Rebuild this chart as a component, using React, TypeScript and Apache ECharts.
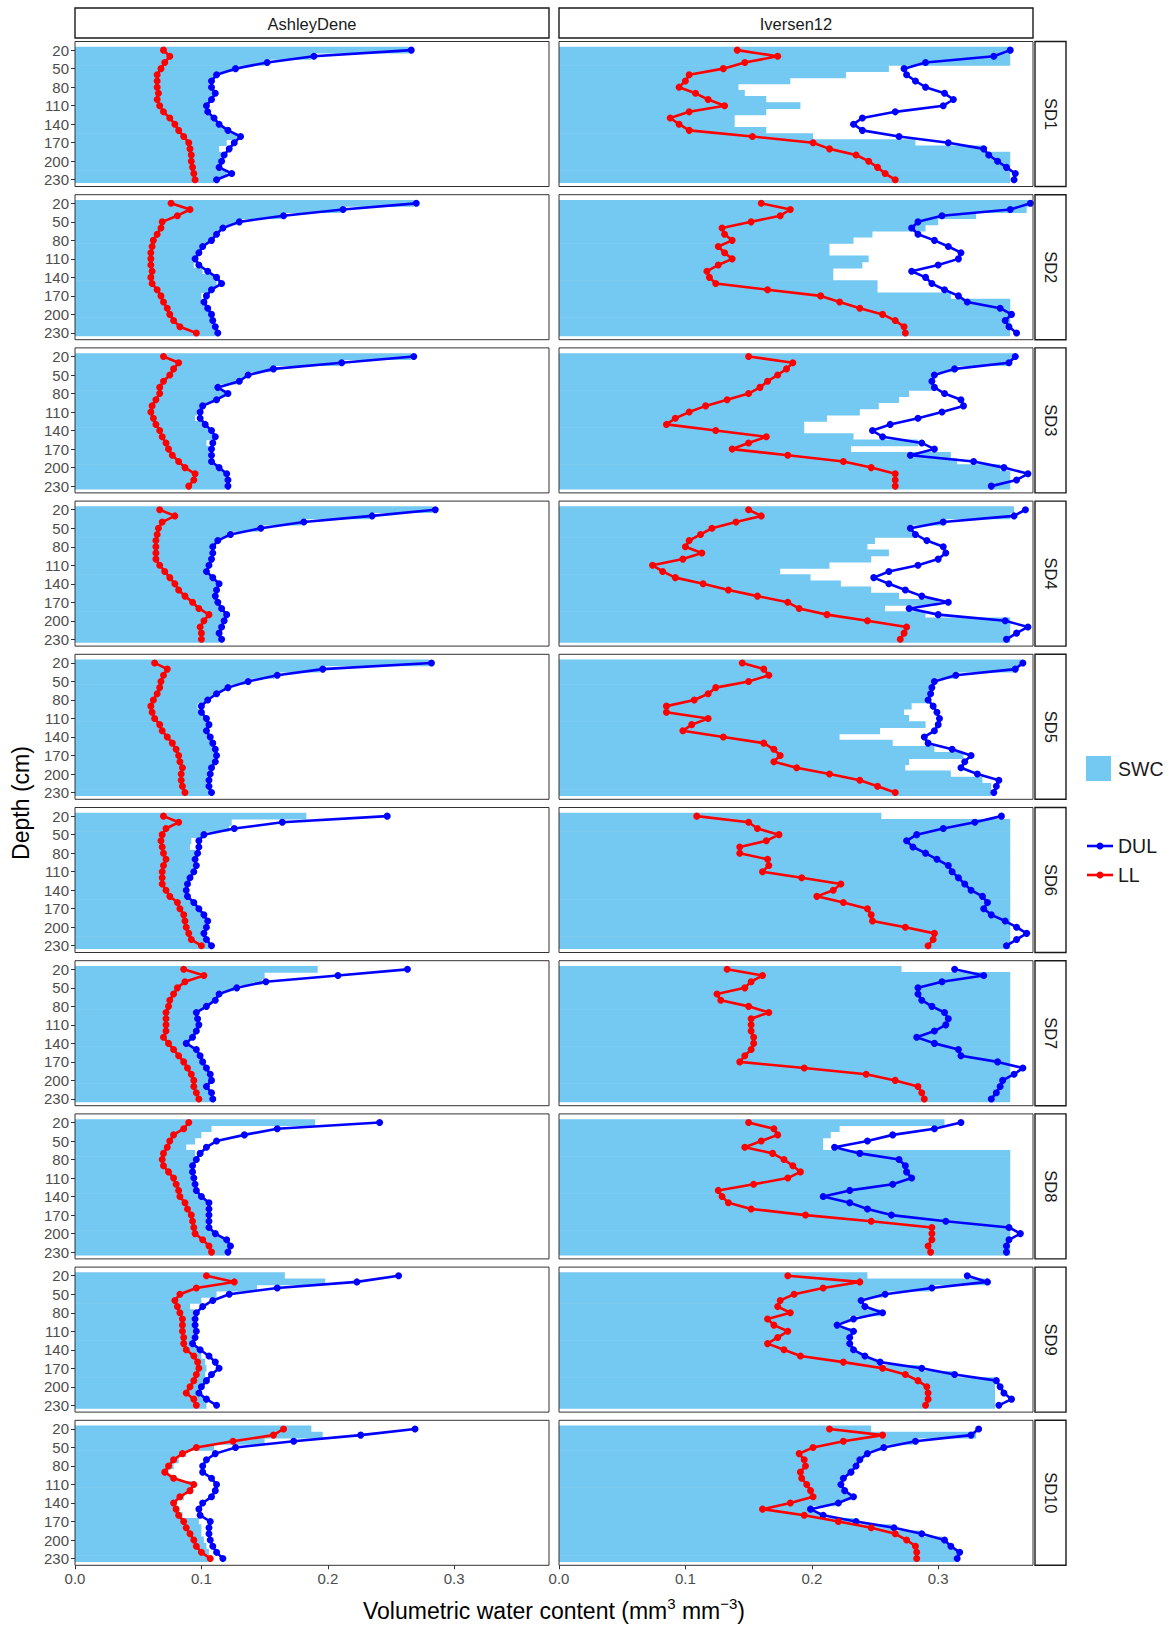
import React, { useEffect, useRef } from "react";
import * as echarts from "echarts";

// ---------- data ----------
const DEPTHS = [20, 30, 40, 50, 60, 70, 80, 90, 100, 110, 120, 130, 140, 150, 160, 170, 180, 190, 200, 210, 220, 230];
const SITES = ["AshleyDene", "Iversen12"];
const SOWING_DATES = ["SD1", "SD2", "SD3", "SD4", "SD5", "SD6", "SD7", "SD8", "SD9", "SD10"];
const Y_TICKS = [20, 50, 80, 110, 140, 170, 200, 230];
const X_TICKS = [0, 0.1, 0.2, 0.3];

// AshleyDene
const adDul1 = [0.266,0.189,0.152,0.127,0.112,0.108,0.108,0.111,0.108,0.104,0.105,0.110,0.114,0.121,0.131,0.126,0.122,0.118,0.116,0.114,0.124,0.112];
const adLl1 = [0.070,0.075,0.071,0.068,0.065,0.065,0.065,0.066,0.065,0.067,0.070,0.075,0.079,0.082,0.086,0.090,0.091,0.092,0.092,0.093,0.094,0.095];
const adSwc1 = [0.264,0.187,0.150,0.125,0.110,0.106,0.106,0.109,0.106,0.102,0.103,0.108,0.112,0.119,0.128,0.120,0.114,0.116,0.114,0.112,0.120,0.110];

const adDul2 = [0.270,0.212,0.165,0.130,0.117,0.112,0.108,0.101,0.098,0.095,0.098,0.105,0.112,0.116,0.108,0.104,0.102,0.105,0.108,0.109,0.111,0.113];
const adLl2 = [0.076,0.091,0.081,0.069,0.068,0.065,0.062,0.061,0.060,0.060,0.060,0.061,0.060,0.061,0.065,0.068,0.070,0.073,0.075,0.078,0.083,0.096];
const adSwc2 = [0.268,0.210,0.163,0.128,0.115,0.110,0.106,0.099,0.096,0.093,0.094,0.101,0.110,0.112,0.106,0.100,0.100,0.103,0.106,0.107,0.109,0.111];

const adDul3 = [0.268,0.211,0.157,0.137,0.130,0.113,0.121,0.112,0.101,0.099,0.099,0.103,0.108,0.111,0.109,0.108,0.108,0.108,0.114,0.120,0.121,0.121];
const adLl3 = [0.070,0.082,0.078,0.075,0.070,0.067,0.067,0.064,0.061,0.060,0.062,0.064,0.067,0.069,0.072,0.074,0.077,0.082,0.087,0.095,0.094,0.090];
const adSwc3 = [0.266,0.209,0.155,0.135,0.128,0.111,0.119,0.110,0.099,0.097,0.095,0.101,0.106,0.109,0.104,0.106,0.106,0.106,0.112,0.118,0.119,0.119];

const adDul4 = [0.285,0.235,0.181,0.147,0.123,0.113,0.109,0.109,0.108,0.106,0.104,0.109,0.114,0.112,0.111,0.113,0.116,0.120,0.118,0.116,0.114,0.116];
const adLl4 = [0.067,0.079,0.069,0.066,0.065,0.064,0.064,0.064,0.064,0.067,0.071,0.075,0.079,0.082,0.087,0.093,0.098,0.106,0.102,0.099,0.100,0.100];
const adSwc4 = [0.283,0.233,0.179,0.145,0.121,0.111,0.107,0.107,0.106,0.104,0.102,0.107,0.112,0.110,0.109,0.111,0.114,0.118,0.116,0.114,0.112,0.114];

const adDul5 = [0.282,0.196,0.160,0.137,0.121,0.112,0.105,0.100,0.100,0.104,0.106,0.104,0.107,0.109,0.111,0.112,0.111,0.108,0.107,0.106,0.106,0.108];
const adLl5 = [0.063,0.073,0.070,0.068,0.067,0.065,0.062,0.060,0.061,0.063,0.067,0.069,0.073,0.077,0.080,0.082,0.083,0.085,0.084,0.084,0.085,0.087];
const adSwc5 = [0.280,0.194,0.158,0.135,0.119,0.110,0.103,0.097,0.098,0.102,0.104,0.102,0.105,0.107,0.109,0.110,0.109,0.106,0.105,0.104,0.104,0.106];

const adDul6 = [0.247,0.164,0.126,0.102,0.098,0.098,0.097,0.095,0.096,0.094,0.091,0.089,0.088,0.089,0.094,0.098,0.102,0.105,0.104,0.102,0.104,0.108];
const adLl6 = [0.070,0.082,0.072,0.069,0.068,0.069,0.070,0.072,0.070,0.069,0.069,0.069,0.072,0.075,0.081,0.083,0.086,0.087,0.088,0.090,0.092,0.100];
const adSwc6 = [0.183,0.124,0.122,0.100,0.092,0.091,0.095,0.093,0.094,0.092,0.089,0.087,0.086,0.087,0.092,0.096,0.100,0.103,0.102,0.100,0.102,0.106];

const adDul7 = [0.263,0.208,0.151,0.128,0.114,0.111,0.104,0.096,0.097,0.098,0.096,0.093,0.088,0.096,0.099,0.101,0.104,0.107,0.108,0.104,0.108,0.109];
const adLl7 = [0.086,0.102,0.087,0.081,0.078,0.075,0.074,0.072,0.072,0.072,0.072,0.070,0.074,0.078,0.082,0.086,0.089,0.092,0.094,0.094,0.096,0.098];
const adSwc7 = [0.192,0.150,0.148,0.126,0.112,0.109,0.102,0.094,0.095,0.096,0.094,0.091,0.086,0.094,0.097,0.099,0.102,0.105,0.106,0.102,0.106,0.107];

const adDul8 = [0.241,0.160,0.134,0.112,0.104,0.099,0.096,0.093,0.093,0.094,0.095,0.096,0.100,0.106,0.106,0.106,0.106,0.106,0.111,0.120,0.123,0.121];
const adLl8 = [0.090,0.086,0.078,0.075,0.073,0.070,0.069,0.070,0.074,0.078,0.080,0.082,0.083,0.087,0.089,0.092,0.093,0.094,0.095,0.101,0.106,0.108];
const adSwc8 = [0.190,0.108,0.100,0.095,0.088,0.095,0.094,0.091,0.091,0.092,0.093,0.094,0.098,0.104,0.104,0.104,0.104,0.104,0.109,0.118,0.121,0.119];

const adDul9 = [0.256,0.223,0.160,0.122,0.109,0.101,0.096,0.095,0.095,0.096,0.095,0.093,0.099,0.106,0.111,0.114,0.108,0.104,0.100,0.098,0.104,0.112];
const adLl9 = [0.104,0.126,0.096,0.083,0.079,0.081,0.083,0.085,0.085,0.085,0.086,0.086,0.088,0.094,0.097,0.098,0.096,0.094,0.091,0.088,0.094,0.096];
const adSwc9 = [0.166,0.198,0.144,0.112,0.100,0.091,0.094,0.093,0.093,0.094,0.093,0.091,0.097,0.100,0.103,0.104,0.103,0.102,0.098,0.096,0.102,0.104];

const adDul10 = [0.269,0.226,0.173,0.127,0.111,0.104,0.101,0.101,0.108,0.112,0.111,0.108,0.101,0.098,0.099,0.107,0.106,0.106,0.107,0.109,0.112,0.117];
const adLl10 = [0.165,0.157,0.125,0.096,0.085,0.078,0.074,0.071,0.078,0.094,0.091,0.083,0.078,0.080,0.082,0.086,0.088,0.091,0.094,0.096,0.100,0.107];
const adSwc10 = [0.187,0.196,0.150,0.110,0.088,0.082,0.078,0.074,0.080,0.095,0.093,0.086,0.080,0.082,0.085,0.098,0.100,0.100,0.102,0.104,0.106,0.108];

// Iversen12
const ivDul1 = [0.357,0.344,0.290,0.273,0.275,0.282,0.290,0.305,0.312,0.304,0.266,0.240,0.233,0.240,0.269,0.308,0.336,0.340,0.347,0.354,0.361,0.360];
const ivLl1 = [0.141,0.173,0.147,0.130,0.103,0.100,0.095,0.108,0.118,0.131,0.103,0.088,0.095,0.103,0.153,0.201,0.214,0.235,0.245,0.252,0.258,0.266];
const ivSwc1 = [0.357,0.357,0.357,0.261,0.227,0.183,0.142,0.147,0.164,0.191,0.164,0.139,0.139,0.164,0.201,0.282,0.335,0.357,0.357,0.357,0.357,0.357];

const ivDul2 = [0.373,0.357,0.303,0.284,0.279,0.284,0.297,0.308,0.318,0.316,0.300,0.279,0.290,0.295,0.305,0.316,0.323,0.349,0.358,0.353,0.356,0.362];
const ivLl2 = [0.160,0.183,0.175,0.152,0.129,0.131,0.137,0.126,0.131,0.137,0.126,0.117,0.119,0.124,0.165,0.207,0.222,0.238,0.256,0.266,0.273,0.274];
const ivSwc2 = [0.373,0.370,0.330,0.300,0.290,0.248,0.233,0.214,0.214,0.245,0.240,0.217,0.217,0.252,0.252,0.310,0.357,0.357,0.357,0.357,0.357,0.357];

const ivDul3 = [0.361,0.356,0.313,0.297,0.295,0.297,0.305,0.318,0.320,0.303,0.284,0.262,0.248,0.256,0.287,0.297,0.278,0.328,0.352,0.371,0.362,0.342];
const ivLl3 = [0.150,0.185,0.180,0.173,0.165,0.159,0.150,0.133,0.116,0.103,0.092,0.085,0.124,0.164,0.150,0.137,0.181,0.225,0.247,0.266,0.266,0.266];
const ivSwc3 = [0.361,0.356,0.313,0.297,0.295,0.297,0.277,0.269,0.253,0.238,0.212,0.194,0.194,0.233,0.284,0.231,0.310,0.315,0.349,0.357,0.357,0.357];

const ivDul4 = [0.369,0.360,0.304,0.278,0.282,0.291,0.304,0.306,0.300,0.284,0.261,0.249,0.261,0.274,0.287,0.308,0.277,0.300,0.353,0.371,0.362,0.354];
const ivLl4 = [0.150,0.160,0.140,0.121,0.112,0.103,0.100,0.113,0.098,0.074,0.082,0.092,0.114,0.134,0.157,0.181,0.190,0.212,0.244,0.275,0.273,0.270];
const ivSwc4 = [0.360,0.357,0.304,0.278,0.282,0.250,0.244,0.261,0.247,0.214,0.175,0.199,0.223,0.247,0.269,0.300,0.258,0.290,0.357,0.357,0.357,0.357];

const ivDul5 = [0.367,0.361,0.314,0.297,0.295,0.294,0.292,0.296,0.299,0.301,0.300,0.297,0.289,0.292,0.311,0.326,0.321,0.318,0.331,0.348,0.346,0.344];
const ivLl5 = [0.145,0.162,0.166,0.150,0.124,0.118,0.107,0.085,0.085,0.118,0.105,0.098,0.130,0.162,0.170,0.175,0.170,0.188,0.214,0.238,0.252,0.266];
const ivSwc5 = [0.367,0.360,0.314,0.297,0.295,0.294,0.292,0.279,0.273,0.277,0.290,0.254,0.222,0.264,0.297,0.320,0.277,0.274,0.310,0.335,0.342,0.342];

const ivDul6 = [0.350,0.329,0.304,0.283,0.275,0.280,0.290,0.299,0.308,0.311,0.316,0.321,0.326,0.335,0.339,0.336,0.342,0.353,0.362,0.370,0.362,0.354];
const ivLl6 = [0.109,0.150,0.157,0.174,0.164,0.143,0.143,0.165,0.166,0.161,0.192,0.223,0.217,0.204,0.225,0.244,0.247,0.248,0.274,0.297,0.296,0.292];
const ivSwc6 = [0.255,0.357,0.357,0.357,0.357,0.357,0.357,0.357,0.357,0.357,0.357,0.357,0.357,0.357,0.357,0.357,0.357,0.357,0.357,0.357,0.357,0.357];

const ivDul7 = [0.313,0.336,0.303,0.284,0.284,0.287,0.295,0.305,0.308,0.306,0.297,0.283,0.297,0.316,0.318,0.347,0.367,0.360,0.351,0.349,0.346,0.342];
const ivLl7 = [0.133,0.161,0.152,0.147,0.125,0.128,0.150,0.166,0.152,0.152,0.152,0.154,0.154,0.152,0.147,0.143,0.194,0.243,0.266,0.284,0.287,0.289];
const ivSwc7 = [0.271,0.357,0.357,0.357,0.357,0.357,0.357,0.357,0.357,0.357,0.357,0.357,0.357,0.357,0.357,0.357,0.357,0.357,0.357,0.357,0.357,0.357];

const ivDul8 = [0.318,0.297,0.264,0.244,0.218,0.238,0.269,0.274,0.275,0.279,0.264,0.230,0.209,0.230,0.244,0.263,0.306,0.356,0.365,0.356,0.354,0.354];
const ivLl8 = [0.150,0.170,0.173,0.160,0.147,0.169,0.178,0.185,0.191,0.181,0.154,0.126,0.129,0.134,0.152,0.195,0.247,0.295,0.295,0.295,0.292,0.294];
const ivSwc8 = [0.305,0.222,0.215,0.209,0.209,0.357,0.357,0.357,0.357,0.357,0.357,0.357,0.357,0.357,0.357,0.357,0.357,0.357,0.357,0.357,0.357,0.357];

const ivDul9 = [0.323,0.339,0.295,0.258,0.239,0.242,0.256,0.233,0.220,0.233,0.230,0.230,0.233,0.242,0.254,0.287,0.313,0.346,0.349,0.352,0.358,0.348];
const ivLl9 = [0.181,0.238,0.209,0.186,0.175,0.173,0.183,0.165,0.170,0.181,0.173,0.165,0.178,0.191,0.225,0.256,0.274,0.284,0.291,0.292,0.292,0.290];
const ivSwc9 = [0.244,0.339,0.293,0.256,0.237,0.240,0.254,0.230,0.218,0.231,0.228,0.228,0.231,0.240,0.252,0.285,0.312,0.345,0.345,0.345,0.345,0.345];

const ivDul10 = [0.332,0.326,0.282,0.257,0.244,0.238,0.235,0.231,0.225,0.223,0.226,0.233,0.221,0.199,0.209,0.235,0.265,0.287,0.305,0.310,0.317,0.315];
const ivLl10 = [0.214,0.256,0.225,0.201,0.190,0.194,0.195,0.191,0.192,0.196,0.199,0.201,0.183,0.161,0.194,0.221,0.247,0.266,0.275,0.282,0.283,0.283];
const ivSwc10 = [0.247,0.330,0.280,0.256,0.242,0.236,0.233,0.229,0.223,0.221,0.224,0.231,0.219,0.197,0.207,0.233,0.263,0.285,0.303,0.308,0.315,0.313];

const AD_DUL = [adDul1, adDul2, adDul3, adDul4, adDul5, adDul6, adDul7, adDul8, adDul9, adDul10];
const AD_LL = [adLl1, adLl2, adLl3, adLl4, adLl5, adLl6, adLl7, adLl8, adLl9, adLl10];
const AD_SWC = [adSwc1, adSwc2, adSwc3, adSwc4, adSwc5, adSwc6, adSwc7, adSwc8, adSwc9, adSwc10];
const IV_DUL = [ivDul1, ivDul2, ivDul3, ivDul4, ivDul5, ivDul6, ivDul7, ivDul8, ivDul9, ivDul10];
const IV_LL = [ivLl1, ivLl2, ivLl3, ivLl4, ivLl5, ivLl6, ivLl7, ivLl8, ivLl9, ivLl10];
const IV_SWC = [ivSwc1, ivSwc2, ivSwc3, ivSwc4, ivSwc5, ivSwc6, ivSwc7, ivSwc8, ivSwc9, ivSwc10];

// ---------- layout / style ----------
const W = 1175;
const H = 1627;
const COL_LEFT = [75, 559];
const PANEL_W = 474;
const ROW_TOP = 41.5;
const ROW_PITCH = 153.2;
const PANEL_H = 145;
const STRIP_X = 1035;
const STRIP_W = 31;
const FONT = "'Liberation Sans', Arial, Helvetica, sans-serif";
const SWC_COLOR = "#73C9F1";
const DUL_COLOR = "#0000FF";
const LL_COLOR = "#FF0000";
const TICK_COLOR = "#4d4d4d";
const LINE_W = 2.6;
const SYMBOL_SIZE = 7;

function buildOption() {
  const grids: any[] = [];
  const xAxes: any[] = [];
  const yAxes: any[] = [];
  const series: any[] = [];
  const graphics: any[] = [];

  for (let r = 0; r < SOWING_DATES.length; r++) {
    for (let c = 0; c < SITES.length; c++) {
      const idx = r * 2 + c;
      const top = ROW_TOP + r * ROW_PITCH;
      const left = COL_LEFT[c];
      grids.push({ left, top, width: PANEL_W, height: PANEL_H, show: true, backgroundColor: "#fff", borderWidth: 0 });
      const bottomRow = r === SOWING_DATES.length - 1;
      xAxes.push({
        gridIndex: idx,
        type: "value",
        min: 0,
        max: 0.375,
        axisLine: { show: false },
        splitLine: { show: false },
        axisTick: { show: bottomRow, length: 4, customValues: X_TICKS, lineStyle: { color: "#333", width: 1 } },
        axisLabel: {
          show: bottomRow,
          customValues: X_TICKS,
          formatter: (v: number) => v.toFixed(1),
          fontSize: 15,
          color: TICK_COLOR,
          fontFamily: FONT,
          margin: 6,
        },
      });
      yAxes.push({
        gridIndex: idx,
        type: "value",
        inverse: true,
        min: 6,
        max: 241,
        axisLine: { show: false },
        splitLine: { show: false },
        axisTick: { show: c === 0, length: 4, customValues: Y_TICKS, lineStyle: { color: "#333", width: 1 } },
        axisLabel: {
          show: c === 0,
          customValues: Y_TICKS,
          fontSize: 15,
          color: TICK_COLOR,
          fontFamily: FONT,
          margin: 6,
        },
      });

      const dul = c === 0 ? AD_DUL[r] : IV_DUL[r];
      const ll = c === 0 ? AD_LL[r] : IV_LL[r];
      const swc = c === 0 ? AD_SWC[r] : IV_SWC[r];

      series.push({
        type: "custom",
        name: "SWC",
        xAxisIndex: idx,
        yAxisIndex: idx,
        coordinateSystem: "cartesian2d",
        z: 1,
        encode: { x: 0, y: 1 },
        data: DEPTHS.map((d, k) => [swc[k], d]),
        renderItem: (_params: any, api: any) => {
          const v = api.value(0);
          const d = api.value(1);
          const p0 = api.coord([0, d - 5]);
          const p1 = api.coord([v, d + 5]);
          const y0 = Math.min(p0[1], p1[1]);
          const hgt = Math.abs(p1[1] - p0[1]);
          return {
            type: "rect",
            shape: { x: p0[0], y: y0 - 0.3, width: p1[0] - p0[0], height: hgt + 0.6 },
            style: { fill: SWC_COLOR },
          };
        },
      });
      series.push({
        type: "line",
        name: "DUL",
        xAxisIndex: idx,
        yAxisIndex: idx,
        z: 3,
        data: DEPTHS.map((d, k) => [dul[k], d]),
        symbol: "circle",
        symbolSize: SYMBOL_SIZE,
        showSymbol: true,
        lineStyle: { color: DUL_COLOR, width: LINE_W },
        itemStyle: { color: DUL_COLOR },
      });
      series.push({
        type: "line",
        name: "LL",
        xAxisIndex: idx,
        yAxisIndex: idx,
        z: 4,
        data: DEPTHS.map((d, k) => [ll[k], d]),
        symbol: "circle",
        symbolSize: SYMBOL_SIZE,
        showSymbol: true,
        lineStyle: { color: LL_COLOR, width: LINE_W },
        itemStyle: { color: LL_COLOR },
      });

      // panel border
      graphics.push({
        type: "rect",
        z: 50,
        shape: { x: left, y: top, width: PANEL_W, height: PANEL_H },
        style: { fill: "none", stroke: "#333", lineWidth: 1 },
        silent: true,
      });
    }
    // right strip
    const top = ROW_TOP + r * ROW_PITCH;
    graphics.push({
      type: "rect",
      z: 50,
      shape: { x: STRIP_X, y: top, width: STRIP_W, height: PANEL_H },
      style: { fill: "#fff", stroke: "#1a1a1a", lineWidth: 1.4 },
    });
    graphics.push({
      type: "text",
      z: 51,
      x: STRIP_X + STRIP_W / 2,
      y: top + PANEL_H / 2,
      rotation: -Math.PI / 2,
      style: {
        text: SOWING_DATES[r],
        fontSize: 16.5,
        fontFamily: FONT,
        fill: "#1a1a1a",
        align: "center",
        verticalAlign: "middle",
      },
    });
  }

  // top strips
  for (let c = 0; c < SITES.length; c++) {
    graphics.push({
      type: "rect",
      z: 50,
      shape: { x: COL_LEFT[c], y: 8, width: PANEL_W, height: 30 },
      style: { fill: "#fff", stroke: "#1a1a1a", lineWidth: 1.4 },
    });
    graphics.push({
      type: "text",
      z: 51,
      x: COL_LEFT[c] + PANEL_W / 2,
      y: 23.5,
      style: {
        text: SITES[c],
        fontSize: 16.5,
        fontFamily: FONT,
        fill: "#1a1a1a",
        align: "center",
        verticalAlign: "middle",
      },
    });
  }

  // axis titles
  graphics.push({
    type: "text",
    x: 21,
    y: 803,
    rotation: Math.PI / 2,
    style: {
      text: "Depth (cm)",
      fontSize: 23,
      fontFamily: FONT,
      fill: "#000",
      align: "center",
      verticalAlign: "middle",
    },
  });
  graphics.push({
    type: "text",
    x: 554,
    y: 1611,
    style: {
      text: "Volumetric water content (mm{sup|3} mm{sup|−3})",
      fontSize: 23,
      fontFamily: FONT,
      fill: "#000",
      align: "center",
      verticalAlign: "middle",
      lineHeight: 30,
      rich: {
        sup: { fontSize: 15, fontFamily: FONT, fill: "#000", verticalAlign: "top", lineHeight: 15 },
      },
    },
  });

  // legend
  graphics.push({
    type: "rect",
    shape: { x: 1086, y: 756, width: 25, height: 25 },
    style: { fill: SWC_COLOR },
  });
  graphics.push({
    type: "text",
    x: 1118,
    y: 768.5,
    style: { text: "SWC", fontSize: 19.5, fontFamily: FONT, fill: "#1a1a1a", verticalAlign: "middle", align: "left" },
  });
  const legendLines = [
    { name: "DUL", color: DUL_COLOR, y: 846 },
    { name: "LL", color: LL_COLOR, y: 875 },
  ];
  legendLines.forEach((it) => {
    graphics.push({
      type: "line",
      shape: { x1: 1087, y1: it.y, x2: 1113, y2: it.y },
      style: { stroke: it.color, lineWidth: LINE_W },
    });
    graphics.push({
      type: "circle",
      shape: { cx: 1100, cy: it.y, r: 3.5 },
      style: { fill: it.color },
    });
    graphics.push({
      type: "text",
      x: 1118,
      y: it.y,
      style: { text: it.name, fontSize: 19.5, fontFamily: FONT, fill: "#1a1a1a", verticalAlign: "middle", align: "left" },
    });
  });

  return {
    animation: false,
    backgroundColor: "#fff",
    textStyle: { fontFamily: FONT },
    grid: grids,
    xAxis: xAxes,
    yAxis: yAxes,
    series,
    graphic: { elements: graphics },
  };
}

export default function App() {
  const ref = useRef<HTMLDivElement>(null);
  useEffect(() => {
    document.body.style.margin = "0";
    if (!ref.current) return;
    const chart = echarts.init(ref.current, undefined, { renderer: "svg" });
    chart.setOption(buildOption() as any);
    return () => {
      chart.dispose();
    };
  }, []);
  return <div ref={ref} style={{ width: W, height: H, background: "#fff" }} />;
}
